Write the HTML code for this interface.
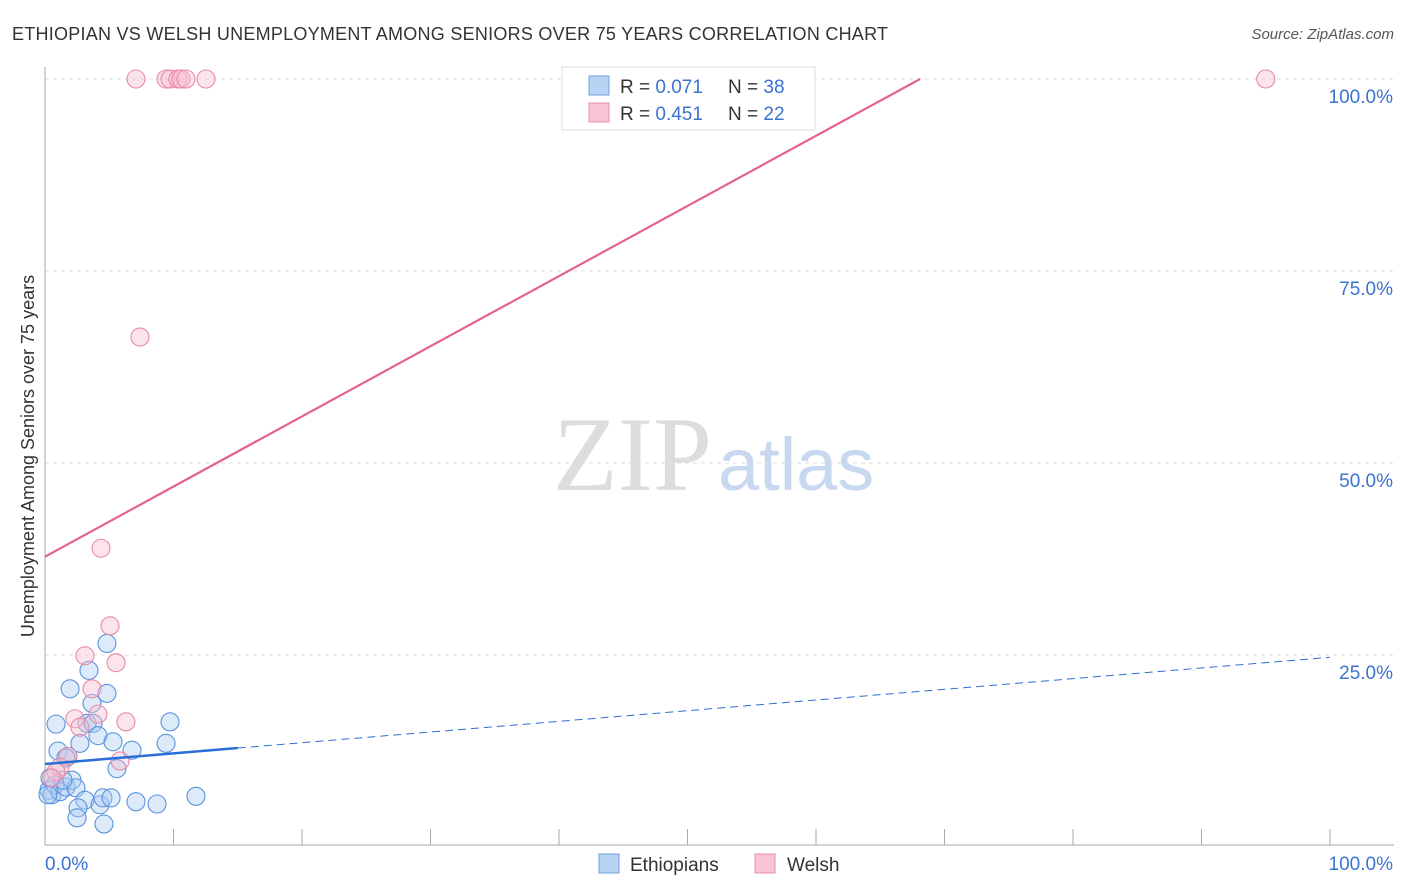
<!DOCTYPE html>
<html><head><meta charset="utf-8"><style>
body{margin:0;background:#fff;font-family:"Liberation Sans",sans-serif}
svg{display:block}
</style></head><body>
<svg width="1406" height="892" xmlns="http://www.w3.org/2000/svg" id="chart">
<text x="12" y="40" font-size="18" fill="#333" textLength="876">ETHIOPIAN VS WELSH UNEMPLOYMENT AMONG SENIORS OVER 75 YEARS CORRELATION CHART</text>
<text x="1394" y="39" font-size="15" fill="#555" font-style="italic" text-anchor="end">Source: ZipAtlas.com</text>
<text x="34" y="456" font-size="18" fill="#333" text-anchor="middle" transform="rotate(-90 34 456)">Unemployment Among Seniors over 75 years</text>
<text x="553" y="490" font-size="106" fill="#ddd" font-family="Liberation Serif,serif">ZIP</text>
<text x="718" y="490" font-size="74" fill="#c8d8f0">atlas</text>
<g id="grid"></g><g id="axes"></g><g id="pts"></g><g id="trend"></g>
<g>
<rect x="562" y="67" width="253" height="63" fill="#fff" stroke="#ddd"/>
<rect x="589" y="76" width="20" height="19" fill="#b8d4f5" stroke="#6fa0dc"/>
<rect x="589" y="103" width="20" height="19" fill="#f9c4d4" stroke="#e890ab"/>
<text x="620" y="93" font-size="19" fill="#333">R = <tspan fill="#3a73d0">0.071</tspan></text>
<text x="728" y="93" font-size="19" fill="#333">N = <tspan fill="#3a73d0">38</tspan></text>
<text x="620" y="120" font-size="19" fill="#333">R = <tspan fill="#3a73d0">0.451</tspan></text>
<text x="728" y="120" font-size="19" fill="#333">N = <tspan fill="#3a73d0">22</tspan></text>
</g>
<g>
<rect x="599" y="854" width="20" height="19" fill="#b8d4f5" stroke="#6fa0dc"/>
<text x="630" y="871" font-size="19" fill="#333">Ethiopians</text>
<rect x="755" y="854" width="20" height="19" fill="#f9c4d4" stroke="#e890ab"/>
<text x="787" y="871" font-size="19" fill="#333">Welsh</text>
</g>
</svg>
<script>
const yTicks=[25,50,75,100];
const yTickLabels=["25.0%","50.0%","75.0%","100.0%"];
const xTickLabels=["0.0%","100.0%"];
const ethX=[0.86,1.01,1.95,3.42,4.82,4.82,3.66,3.27,3.74,2.72,4.12,5.29,1.79,1.63,6.77,5.6,9.73,9.42,0.31,0.54,0.78,1.17,1.63,2.1,2.41,1.4,3.11,2.57,2.49,4.28,4.51,5.14,4.59,7.08,8.72,11.75,0.39,0.23];
const ethY=[16.0,12.5,20.6,23.0,26.5,20.0,18.7,16.1,16.1,13.5,14.5,13.7,11.8,11.6,12.6,10.2,16.3,13.5,7.4,6.8,8.1,7.2,7.8,8.7,7.7,8.7,6.1,5.1,3.8,5.5,6.4,6.4,3.0,5.9,5.6,6.6,9.0,6.8];
const welX=[7.08,9.42,9.73,10.35,10.58,10.97,12.53,95.0,7.39,4.36,5.06,3.11,5.53,3.66,4.12,6.3,2.33,2.72,1.79,5.84,1.17,0.86,0.54];
const welY=[100,100,100,100,100,100,100,100,66.4,38.9,28.8,24.9,24.0,20.6,17.3,16.3,16.7,15.6,11.8,11.2,10.4,9.8,9.0];
const ethTrend=[10.8,24.7];
const welTrend=[37.8,100];
const welTrendEndX=68.1;
const ethSolidEndX=15;
const X=v=>45+v*12.85, Y=v=>847-v*7.68;
const NS="http://www.w3.org/2000/svg";
function mk(p,t,a){const e=document.createElementNS(NS,t);for(const k in a)e.setAttribute(k,a[k]);document.getElementById(p).appendChild(e);return e;}
yTicks.forEach((t,i)=>{
 const l=mk('grid','line',{x1:45,x2:1394,y1:Y(t),y2:Y(t),stroke:'#ddd','stroke-dasharray':'4 4'});
 
 
 const tx=mk('grid','text',{x:1393,y:Y(t)+24,'font-size':19,fill:'#3a73d0','text-anchor':'end'});
 tx.textContent=yTickLabels[i];
 
 
});
mk('axes','line',{x1:45,x2:45,y1:67,y2:845,stroke:'#aaa'});
mk('axes','line',{x1:45,x2:1394,y1:845,y2:845,stroke:'#aaa'});
for(let i=1;i<=10;i++){const l=mk('axes','line',{x1:X(i*10),x2:X(i*10),y1:829,y2:845,stroke:'#aaa'});
 
 }
const t0=mk('axes','text',{x:45,y:870,'font-size':19,fill:'#3a73d0'});t0.textContent=xTickLabels[0];


const t1=mk('axes','text',{x:1393,y:870,'font-size':19,fill:'#3a73d0','text-anchor':'end'});t1.textContent=xTickLabels[1];


ethX.forEach((x,i)=>{const c=mk('pts','circle',{cx:X(x),cy:Y(ethY[i]),r:9,fill:'rgba(170,202,242,0.4)',stroke:'#5b93dc','stroke-width':1.1});
 
 });
welX.forEach((x,i)=>{const c=mk('pts','circle',{cx:X(x),cy:Y(welY[i]),r:9,fill:'rgba(248,188,206,0.4)',stroke:'#e88aa8','stroke-width':1.1});
 
 });
const ey=x=>ethTrend[0]+(ethTrend[1]-ethTrend[0])*x/100;
const a=mk('trend','line',{x1:X(0),y1:Y(ey(0)),x2:X(ethSolidEndX),y2:Y(ey(ethSolidEndX)),stroke:'#2a6fd6','stroke-width':2.5});


const b=mk('trend','line',{x1:X(ethSolidEndX),y1:Y(ey(ethSolidEndX)),x2:X(100),y2:Y(ey(100)),stroke:'#2a6fd6','stroke-width':1,'stroke-dasharray':'8 5'});


const w=mk('trend','line',{x1:X(0),y1:Y(welTrend[0]),x2:X(welTrendEndX),y2:Y(welTrend[1]),stroke:'#e4628d','stroke-width':2.2});


</script>
</body></html>
